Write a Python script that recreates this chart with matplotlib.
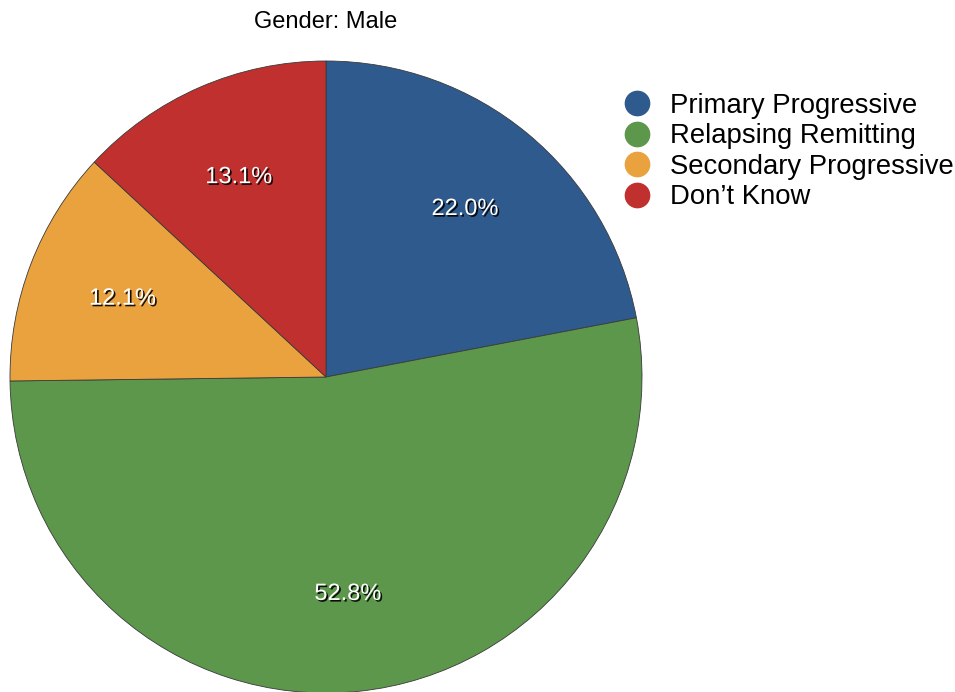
import matplotlib
matplotlib.use("Agg")
import matplotlib.pyplot as plt
import matplotlib.patheffects as pe
from matplotlib.lines import Line2D

plt.rcParams['font.family'] = ['Liberation Sans', 'DejaVu Sans']

# data
categories = ['Primary Progressive', 'Relapsing Remitting',
              'Secondary Progressive', "Don\u2019t Know"]
shares = [22.0, 52.8, 12.1, 13.1]
colors = ['#2f5a8e', '#5c974b', '#e9a23e', '#c0302f']
title = 'Gender: Male'

fig = plt.figure(figsize=(9.55, 6.92), dpi=100)
# square axes holding the pie (centre ~ (326,377) px, radius ~316 px)
ax = fig.add_axes([10 / 955, -1 / 692, 632 / 955, 632 / 692])

wedges, texts, autotexts = ax.pie(
    shares, colors=colors, startangle=90, counterclock=False,
    autopct='%1.1f%%', pctdistance=0.69, radius=1.0,
    wedgeprops=dict(edgecolor='#3a3a3a', linewidth=0.6),
    textprops=dict(color='white', fontsize=17))
for t in autotexts:
    t.set_path_effects([pe.withSimplePatchShadow(offset=(1.2, -1.2),
                                                 shadow_rgbFace='black', alpha=0.9)])
ax.set_xlim(-1, 1)
ax.set_ylim(-1, 1)
ax.set_aspect('equal')
ax.axis('off')

fig.text(326 / 955, 1 - 22 / 692, title, ha='center', va='center', fontsize=17)

# circles as legend markers
handles = [Line2D([], [], marker='o', linestyle='none', markersize=17.5,
                  markerfacecolor=c, markeredgecolor=c) for c in colors]
leg = fig.legend(handles, categories, loc='upper left',
                 bbox_to_anchor=(627 / 955, 1 - 93 / 692),
                 frameon=False, fontsize=19.8, handlelength=0.7,
                 handletextpad=0.85, labelspacing=0.16, borderpad=0,
                 borderaxespad=0)

fig.savefig('out.png', dpi=100)
